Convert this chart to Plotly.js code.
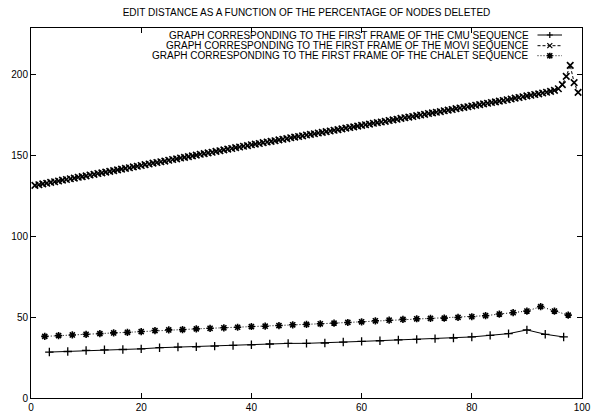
<!DOCTYPE html>
<html>
<head>
<meta charset="utf-8">
<script src="https://cdn.plot.ly/plotly-3.0.1.min.js"></script>
<style>html,body{margin:0;padding:0;background:#fff;}#chart{width:591px;height:416px;}</style>
</head>
<body>
<div id="chart"></div>
<script>
// ---------- DATA ----------
var chartTitle = "EDIT DISTANCE AS A FUNCTION OF THE PERCENTAGE OF NODES DELETED";
var seriesNames = [
  "GRAPH CORRESPONDING TO THE FIRST FRAME OF THE CMU SEQUENCE",
  "GRAPH CORRESPONDING TO THE FIRST FRAME OF THE MOVI SEQUENCE",
  "GRAPH CORRESPONDING TO THE FIRST FRAME OF THE CHALET SEQUENCE"
];
var xTicks = [0, 20, 40, 60, 80, 100];
var yTicks = [0, 50, 100, 150, 200];

var cmuX = [3.33,6.67,10,13.33,16.67,20,23.33,26.67,30,33.33,36.67,40,43.33,46.67,50,
            53.33,56.67,60,63.33,66.67,70,73.33,76.67,80,83.33,86.67,90,93.33,96.67];
var cmuY = [28.4,28.75,29.4,29.8,30.0,30.4,31.1,31.5,31.7,32.1,32.5,32.9,33.4,33.75,33.8,
            34.0,34.6,35.0,35.4,35.9,36.25,36.7,37.1,37.75,38.75,39.8,42.1,39.4,37.75];

var chaletX = [2.5,5,7.5,10,12.5,15,17.5,20,22.5,25,27.5,30,32.5,35,37.5,40,42.5,45,47.5,50,
               52.5,55,57.5,60,62.5,65,67.5,70,72.5,75,77.5,80,82.5,85,87.5,90,92.5,95,97.5];
var chaletY = [38.1,38.6,39.0,39.4,39.8,40.25,40.6,41.1,41.7,42.1,42.3,42.75,43.1,43.4,43.75,44.2,44.4,44.8,45.25,45.5,
               45.9,46.3,46.7,47.1,47.75,48.1,48.6,49.0,49.2,49.4,49.8,50.25,50.9,51.9,52.75,53.75,56.5,53.75,51.25];

var moviX = [
  0.71,1.43,2.14,2.86,3.57,4.29,5.00,
  5.71,6.43,7.14,7.86,8.57,9.29,10.00,
  10.71,11.43,12.14,12.86,13.57,14.29,15.00,
  15.71,16.43,17.14,17.86,18.57,19.29,20.00,
  20.71,21.43,22.14,22.86,23.57,24.29,25.00,
  25.71,26.43,27.14,27.86,28.57,29.29,30.00,
  30.71,31.43,32.14,32.86,33.57,34.29,35.00,
  35.71,36.43,37.14,37.86,38.57,39.29,40.00,
  40.71,41.43,42.14,42.86,43.57,44.29,45.00,
  45.71,46.43,47.14,47.86,48.57,49.29,50.00,
  50.71,51.43,52.14,52.86,53.57,54.29,55.00,
  55.71,56.43,57.14,57.86,58.57,59.29,60.00,
  60.71,61.43,62.14,62.86,63.57,64.29,65.00,
  65.71,66.43,67.14,67.86,68.57,69.29,70.00,
  70.71,71.43,72.14,72.86,73.57,74.29,75.00,
  75.71,76.43,77.14,77.86,78.57,79.29,80.00,
  80.71,81.43,82.14,82.86,83.57,84.29,85.00,
  85.71,86.43,87.14,87.86,88.57,89.29,90.00,
  90.71,91.43,92.14,92.86,93.57,94.29,95.00,
  95.71,96.43,97.14,97.86,98.57,99.29
];
var moviY = [
  131.5,131.9,132.4,132.8,133.3,133.7,134.2,
  134.7,135.1,135.6,136.0,136.5,136.9,137.4,
  137.9,138.3,138.8,139.2,139.7,140.1,140.6,
  141.1,141.5,142.0,142.4,142.9,143.3,143.8,
  144.3,144.7,145.2,145.6,146.1,146.5,147.0,
  147.5,147.9,148.4,148.8,149.3,149.7,150.2,
  150.7,151.1,151.6,152.0,152.5,152.9,153.4,
  153.9,154.3,154.8,155.2,155.7,156.1,156.6,
  157.0,157.4,157.9,158.3,158.7,159.1,159.6,
  160.0,160.4,160.9,161.3,161.7,162.1,162.6,
  163.0,163.4,163.9,164.3,164.7,165.1,165.6,
  166.0,166.4,166.9,167.3,167.7,168.1,168.6,
  169.0,169.4,169.9,170.3,170.7,171.1,171.6,
  172.0,172.4,172.9,173.3,173.7,174.1,174.6,
  175.0,175.4,175.9,176.3,176.7,177.1,177.6,
  178.0,178.4,178.9,179.3,179.7,180.1,180.6,
  181.0,181.4,181.9,182.3,182.7,183.1,183.6,
  184.0,184.4,184.9,185.4,185.8,186.3,186.8,
  187.2,187.7,188.1,188.6,189.1,189.6,190.2,
  191.2,193.8,198.9,205.7,195.0,189.0
];

// ---------- LAYOUT CONSTANTS ----------
var W = 591, H = 416;
var M = {l: 31, r: 9, t: 28, b: 18};
var plotW = W - M.l - M.r, plotH = H - M.t - M.b;
function pxX(x){ return (x - M.l) / plotW; }
function pxY(y){ return (H - M.b - y) / plotH; }

var FONT = "Liberation Sans, Arial, Helvetica, sans-serif";

var traces = [
  {x: cmuX, y: cmuY, type: 'scatter', mode: 'lines+markers', name: seriesNames[0],
   line: {color: '#000', width: 1, dash: 'solid'},
   marker: {symbol: 'cross-thin-open', size: 6, line: {color: '#000', width: 1.3}}},
  {x: moviX, y: moviY, type: 'scatter', mode: 'lines+markers', name: seriesNames[1],
   line: {color: '#000', width: 1, dash: '3px,2px'},
   marker: {symbol: 'x-thin-open', size: 6.5, line: {color: '#000', width: 1.6}}},
  {x: chaletX, y: chaletY, type: 'scatter', mode: 'lines+markers', name: seriesNames[2],
   line: {color: '#000', width: 1, dash: '1px,2px'},
   marker: {symbol: 'asterisk-open', size: 6, line: {color: '#000', width: 1.6}}}
];

// custom legend (text right-aligned, sample to the right)
var rowsPy = [35, 45.7, 55.7];
var textRight = 530, sx0 = 537.5, sx1 = 562, scx = 549.8;
var dashes = ['solid', '3px,2px', '1px,2px'];
var annotations = [], shapes = [];
for (var i = 0; i < 3; i++) {
  var cy = rowsPy[i];
  annotations.push({xref: 'paper', yref: 'paper', x: pxX(textRight), y: pxY(cy),
    xanchor: 'right', yanchor: 'middle', showarrow: false, text: seriesNames[i],
    font: {family: FONT, size: 10, color: '#000'}, borderpad: 0});
  shapes.push({type: 'line', xref: 'paper', yref: 'paper',
    x0: pxX(sx0), x1: pxX(sx1), y0: pxY(cy), y1: pxY(cy),
    line: {color: '#000', width: 1, dash: dashes[i]}});
  var p = '';
  var a = 3, b = 2.5;
  if (i === 0 || i === 2) {
    p += 'M' + pxX(scx - a) + ',' + pxY(cy) + ' L' + pxX(scx + a) + ',' + pxY(cy) +
         ' M' + pxX(scx) + ',' + pxY(cy - a) + ' L' + pxX(scx) + ',' + pxY(cy + a);
  }
  if (i === 1 || i === 2) {
    p += ' M' + pxX(scx - b) + ',' + pxY(cy - b) + ' L' + pxX(scx + b) + ',' + pxY(cy + b) +
         ' M' + pxX(scx - b) + ',' + pxY(cy + b) + ' L' + pxX(scx + b) + ',' + pxY(cy - b);
  }
  shapes.push({type: 'path', xref: 'paper', yref: 'paper', path: p,
    line: {color: '#000', width: i === 2 ? 1.6 : 1.2}});
}

var layout = {
  width: W, height: H,
  margin: M,
  paper_bgcolor: '#fff', plot_bgcolor: '#fff',
  showlegend: false,
  font: {family: FONT, size: 10, color: '#000'},
  title: {text: chartTitle, font: {family: FONT, size: 10, color: '#000'},
          x: 0.5, xref: 'paper', y: 1 - 12/H, yref: 'container', yanchor: 'middle'},
  xaxis: {range: [0, 100], tickvals: xTicks, ticktext: xTicks.map(String),
          ticks: 'inside', ticklen: 5, tickwidth: 1, tickcolor: '#000',
          showline: true, linecolor: '#000', linewidth: 1, mirror: 'ticks',
          showgrid: false, zeroline: false, tickfont: {family: FONT, size: 10, color: '#000'}},
  yaxis: {range: [0, 228.8], tickvals: yTicks, ticktext: yTicks.map(String),
          ticks: 'inside', ticklen: 5, tickwidth: 1, tickcolor: '#000',
          showline: true, linecolor: '#000', linewidth: 1, mirror: 'ticks',
          showgrid: false, zeroline: false, tickfont: {family: FONT, size: 10, color: '#000'}},
  annotations: annotations,
  shapes: shapes
};

Plotly.newPlot('chart', traces, layout, {displayModeBar: false, staticPlot: true});
</script>
</body>
</html>
